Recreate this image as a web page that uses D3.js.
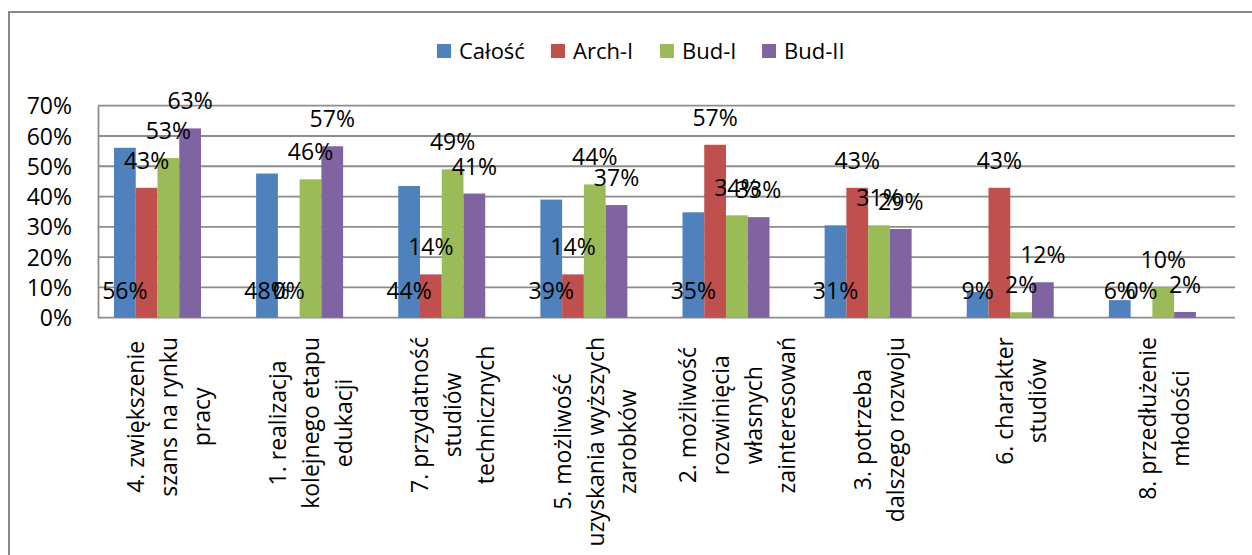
<!DOCTYPE html>
<html>
<head>
<meta charset="utf-8">
<script src="https://cdn.jsdelivr.net/npm/d3@7"></script>
<style>
  body { margin: 0; background: #fff; }
  text { font-family: "Open Sans", sans-serif; fill: #000; }
</style>
</head>
<body>
<div id="chart"></div>
<script>
// categories (each one split into the lines shown under the axis)
var categories = [
  ["4. zwiększenie", "szans na rynku", "pracy"],
  ["1. realizacja", "kolejnego etapu", "edukacji"],
  ["7. przydatność", "studiów", "technicznych"],
  ["5. możliwość", "uzyskania wyższych", "zarobków"],
  ["2. możliwość", "rozwinięcia", "własnych", "zainteresowań"],
  ["3. potrzeba", "dalszego rozwoju"],
  ["6. charakter", "studiów"],
  ["8. przedłużenie", "młodości"]
];
var seriesNames = ["Całość", "Arch-I", "Bud-I", "Bud-II"];
var calosc = [0.561, 0.476, 0.435, 0.390, 0.348, 0.305, 0.085, 0.058];
var archI  = [0.429, 0.000, 0.143, 0.143, 0.571, 0.429, 0.429, 0.000];
var budI   = [0.527, 0.457, 0.490, 0.440, 0.338, 0.305, 0.018, 0.100];
var budII  = [0.625, 0.566, 0.410, 0.372, 0.332, 0.293, 0.117, 0.019];
var yTicks = [0, 0.1, 0.2, 0.3, 0.4, 0.5, 0.6, 0.7];

var colors = ["#4F81BD", "#C0504D", "#9BBB59", "#8064A2"];
var seriesValues = [calosc, archI, budI, budII];

var width = 1252, height = 555;
var plot = {left: 98, right: 1235, top: 105.7, bottom: 317.7};

var svg = d3.select("#chart").append("svg")
    .attr("width", width)
    .attr("height", height);

// outer chart border (only top and left visible)
svg.append("path")
    .attr("d", "M9,560 L9,12 L1260,12")
    .attr("fill", "none")
    .attr("stroke", "#888")
    .attr("stroke-width", 2);

// scales
var x0 = d3.scaleBand()
    .domain(d3.range(categories.length))
    .range([plot.left, plot.right]);
var x1 = d3.scaleBand()
    .domain(seriesNames)
    .range([0, 87]);
var groupOffset = 16;
var y = d3.scaleLinear()
    .domain([0, 0.7])
    .range([plot.bottom, plot.top]);

// gridlines
svg.append("g").selectAll("line")
    .data(yTicks)
  .enter().append("line")
    .attr("x1", plot.left)
    .attr("x2", plot.right)
    .attr("y1", function(d) { return y(d); })
    .attr("y2", function(d) { return y(d); })
    .attr("stroke", "#8c8c8c")
    .attr("stroke-width", 1.8);

// y axis
var yAxis = svg.append("g")
    .attr("transform", "translate(" + plot.left + ",0)")
    .call(d3.axisLeft(y).tickValues(yTicks).tickFormat(d3.format(".0%")).tickSize(0).tickPadding(26));
yAxis.select(".domain").attr("stroke", "#8c8c8c").attr("stroke-width", 1.8);
yAxis.selectAll("text")
    .style("font-family", "'Open Sans', sans-serif")
    .style("font-size", "23px")
    .attr("dy", "0.35em");

// bars
var rows = [];
seriesNames.forEach(function(s, si) {
  seriesValues[si].forEach(function(v, ci) {
    rows.push({series: s, si: si, ci: ci, value: v});
  });
});

svg.append("g").selectAll("rect")
    .data(rows)
  .enter().append("rect")
    .attr("x", function(d) { return x0(d.ci) + groupOffset + x1(d.series); })
    .attr("width", x1.bandwidth())
    .attr("y", function(d) { return y(d.value); })
    .attr("height", function(d) { return y(0) - y(d.value); })
    .attr("fill", function(d) { return colors[d.si]; });

// data labels
var fmt = d3.format(".0%");
svg.append("g").selectAll("text")
    .data(rows)
  .enter().append("text")
    .attr("x", function(d) { return x0(d.ci) + groupOffset + x1(d.series) + x1.bandwidth() / 2; })
    .attr("y", function(d) { return (d.si === 0 ? y(0) : y(d.value)) - 27; })
    .attr("dy", "0.35em")
    .attr("text-anchor", "middle")
    .style("font-size", "23px")
    .text(function(d) { return fmt(d.value); });

// category labels, rotated
var labelTop = 337, lineGap = 33;
var catG = svg.append("g").selectAll("g")
    .data(categories)
  .enter().append("g");

catG.each(function(lines, ci) {
  var g = d3.select(this);
  var t = g.append("text")
      .attr("text-anchor", "middle")
      .style("font-size", "23px");
  t.selectAll("tspan")
      .data(lines)
    .enter().append("tspan")
      .attr("x", 0)
      .attr("y", function(d, i) { return (i - (lines.length - 1) / 2) * lineGap; })
      .attr("dy", "0.35em")
      .text(function(d) { return d; });
  var maxW = 0;
  t.selectAll("tspan").each(function() { maxW = Math.max(maxW, this.getComputedTextLength()); });
  g.attr("transform", "translate(" + (x0(ci) + x0.bandwidth() / 2) + "," + (labelTop + maxW / 2) + ") rotate(-90)");
});

// legend
var legendX = [437, 551, 660, 762];
var legend = svg.append("g").selectAll("g")
    .data(seriesNames)
  .enter().append("g")
    .attr("transform", function(d, i) { return "translate(" + legendX[i] + ",44)"; });
legend.append("rect")
    .attr("width", 14)
    .attr("height", 14)
    .attr("fill", function(d, i) { return colors[i]; });
legend.append("text")
    .attr("x", 22)
    .attr("y", 7)
    .attr("dy", "0.35em")
    .style("font-size", "22px")
    .text(function(d) { return d; });
</script>
</body>
</html>
